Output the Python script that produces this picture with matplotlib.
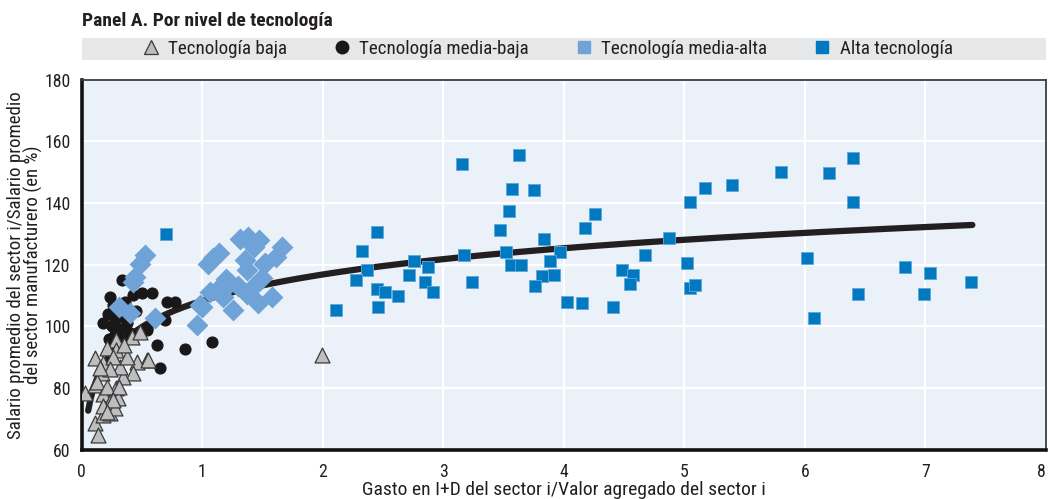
import numpy as np
import matplotlib
matplotlib.use("Agg")
from matplotlib import pyplot as plt
from matplotlib import font_manager
from matplotlib.lines import Line2D
from matplotlib.patches import Rectangle

# prefer a narrow sans face, otherwise fall back to Liberation Sans at a smaller size
installed = {f.name for f in font_manager.fontManager.ttflist}
narrow = [n for n in ['Liberation Sans Narrow', 'DejaVu Sans Condensed', 'Roboto Condensed',
                      'Open Sans Condensed', 'Noto Sans Condensed'] if n in installed]
if narrow:
    base_font, fs = narrow[0], 1.0
else:
    base_font, fs = 'Liberation Sans', 0.9
plt.rcParams['font.family'] = [base_font, 'DejaVu Sans']

# Tecnología baja
low_x = [0.029, 0.112, 0.139, 0.181, 0.236, 0.112, 0.18, 0.29, 0.305, 0.112, 0.18, 0.29,
         0.416, 0.485, 0.54, 0.458, 0.43, 0.347, 0.32, 0.29, 0.209, 0.264, 0.375, 0.168,
         0.126, 0.209, 0.236, 0.18, 0.278, 0.554, 0.31, 0.264, 0.21, 0.35, 0.24, 0.15,
         1.994]
low_y = [78.3, 68.5, 64.7, 71.2, 71.8, 81.0, 88.0, 80.0, 76.7, 89.6, 78.0, 95.6,
         96.7, 98.3, 89.1, 88.5, 84.8, 83.7, 86.9, 92.3, 92.9, 90.2, 90.2, 84.8,
         82.1, 80.4, 75.6, 74.0, 73.4, 89.1, 80.4, 76.1, 72.3, 94.0, 86.0, 86.5,
         90.7]

# Tecnología media-baja
medlow_x = [0.333, 0.236, 0.181, 0.425, 0.5, 0.582, 0.707, 0.775, 0.692, 0.546, 0.624,
            0.861, 1.08, 0.651, 0.54, 0.22, 0.25, 0.27, 0.28, 0.30, 0.32, 0.26, 0.35,
            0.30, 0.33, 0.29, 0.38, 0.23, 0.40, 0.36, 0.45]
medlow_y = [115.1, 109.6, 101.2, 110.2, 110.7, 110.7, 108.0, 108.0, 102.1, 99.4, 94.0,
            92.7, 95.0, 86.4, 98.8, 104.0, 100.0, 97.0, 102.0, 105.0, 99.0, 107.0, 103.0,
            95.0, 96.0, 92.0, 101.0, 96.0, 98.0, 108.0, 105.0]

# Tecnología media-alta
medhigh_x = [0.31, 0.40, 0.43, 0.44, 0.485, 0.525, 0.61, 0.955, 0.98, 0.997, 1.05, 1.066,
             1.093, 1.12, 1.143, 1.176, 1.231, 1.259, 1.314, 1.356, 1.37, 1.37, 1.383,
             1.425, 1.433, 1.474, 1.494, 1.516, 1.52, 1.577, 1.613, 1.66, 1.466, 1.30, 1.20]
medhigh_y = [106.4, 104.3, 114.5, 116.1, 120.3, 123.1, 102.6, 100.5, 107.0, 106.4, 120.3,
             111.3, 122.1, 111.8, 123.7, 109.6, 114.0, 105.3, 128.4, 121.6, 118.3, 110.5,
             129.1, 112.9, 125.9, 128.0, 115.6, 120.2, 120.5, 109.6, 122.4, 125.9, 107.5,
             113.0, 115.5]

# Alta tecnología
high_x = [3.16, 3.625, 3.575, 3.755, 3.55, 3.47, 2.45, 2.33, 3.17, 3.525, 3.835, 4.26,
          4.18, 3.97, 4.675, 2.365, 2.28, 2.757, 2.873, 2.716, 2.846, 2.912, 2.448, 2.517,
          2.627, 2.456, 2.108, 3.235, 3.56, 3.647, 3.885, 3.82, 3.92, 3.763, 4.487, 4.576,
          4.548, 4.026, 4.148, 4.407, 4.87, 5.05, 5.17, 5.40, 5.80, 6.20, 6.40, 6.40,
          5.02, 5.046, 5.085, 6.02, 6.074, 6.44, 6.83, 7.035, 6.99, 7.375, 0.698]
high_y = [152.6, 155.6, 144.5, 144.4, 137.4, 131.2, 130.7, 124.6, 123.2, 124.2, 128.4,
          136.4, 132.0, 124.2, 123.0, 118.3, 115.0, 121.1, 119.3, 116.7, 114.5, 111.0,
          112.1, 111.0, 110.0, 106.4, 105.4, 114.3, 119.9, 119.9, 121.3, 116.3, 116.7,
          113.1, 118.3, 116.8, 113.7, 108.0, 107.7, 106.2, 128.7, 140.4, 144.9, 145.8,
          150.2, 149.7, 154.6, 140.4, 120.4, 112.4, 113.5, 122.1, 102.8, 110.4, 119.3,
          117.4, 110.5, 114.5, 130.1]

# logarithmic trend: a + b*ln(x)
trend_a, trend_b = 108.3, 12.3
trend_range = (0.055, 7.39)

labels = ['Tecnología baja', 'Tecnología media-baja', 'Tecnología media-alta',
          'Alta tecnología']
c_low = '#BEBEBE'
c_medhigh = '#6FA3D8'
c_high = '#0079C1'
c_text = '#231F20'

fig = plt.figure(figsize=(10.48, 4.99), dpi=100)
ax = fig.add_axes([0.0778, 0.099, 0.9202, 0.741])
ax.set_facecolor('#EAF1F9')

tx = np.linspace(trend_range[0], trend_range[1], 400)
ax.plot(tx, trend_a + trend_b * np.log(tx), color=c_text, lw=4.5,
        solid_capstyle='round', zorder=2)

ax.scatter(high_x, high_y, marker='s', s=80, color=c_high, edgecolor='#5FA8DA',
           linewidth=0.6, zorder=3)
ax.scatter(medlow_x, medlow_y, marker='o', s=60, color='#1A1718', zorder=4)
ax.scatter(medhigh_x, medhigh_y, marker='D', s=125, color=c_medhigh, linewidth=0,
           zorder=5)
ax.scatter(low_x, low_y, marker='^', s=115, color=c_low, edgecolor='#3A3A3A',
           linewidth=0.9, zorder=6)

ax.set_xlim(0, 8)
ax.set_ylim(60, 180)
ax.set_xticks(range(0, 9))
ax.set_yticks(range(60, 181, 20))
ax.grid(True, color='white', lw=1.6)
ax.set_axisbelow(True)
ax.tick_params(length=0, labelsize=12.8 * fs, colors=c_text)
ax.tick_params(axis='x', pad=10)
ax.tick_params(axis='y', pad=8)
# keep the last x label inside the figure
ax.get_xticklabels()[-1].set_horizontalalignment('right')

for side in ['top', 'right']:
    ax.spines[side].set_color('#3C3C3C')
    ax.spines[side].set_linewidth(1.3)
for side in ['left', 'bottom']:
    ax.spines[side].set_color('#111111')
    ax.spines[side].set_linewidth(2.6)

ax.set_xlabel('Gasto en I+D del sector i/Valor agregado del sector i', fontsize=14 * fs,
              labelpad=0, color=c_text)
ax.set_ylabel('Salario promedio del sector i/Salario promedio\ndel sector manufacturero (en %)',
              fontsize=13.6 * fs, linespacing=0.92, color=c_text, va='center')
ax.yaxis.set_label_coords(-0.059, 0.5)

# legend band
fig.patches.append(Rectangle((0.0778, 1 - 60 / 499), 0.9202, 22 / 499,
                             transform=fig.transFigure, facecolor='#E6E7E8',
                             edgecolor='none', zorder=0))
handles = [
    Line2D([], [], ls='none', marker='^', ms=10, color=c_low, mec='#3A3A3A', mew=0.9),
    Line2D([], [], ls='none', marker='o', ms=9, color='#1A1718'),
    Line2D([], [], ls='none', marker='s', ms=9, color=c_medhigh),
    Line2D([], [], ls='none', marker='s', ms=9, color=c_high),
]
leg = fig.legend(handles, labels, loc='center', bbox_to_anchor=(0.521, 1 - 49 / 499),
                 ncol=4, frameon=False, fontsize=13.7 * fs, handletextpad=0.3,
                 columnspacing=2.3, handlelength=1.2)
for t in leg.get_texts():
    t.set_color(c_text)

fig.text(0.0778, 1 - 21 / 499, 'Panel A. Por nivel de tecnología', fontsize=14 * fs,
         fontweight='bold', va='center', ha='left', color=c_text)

fig.savefig('out.png', dpi=100)
